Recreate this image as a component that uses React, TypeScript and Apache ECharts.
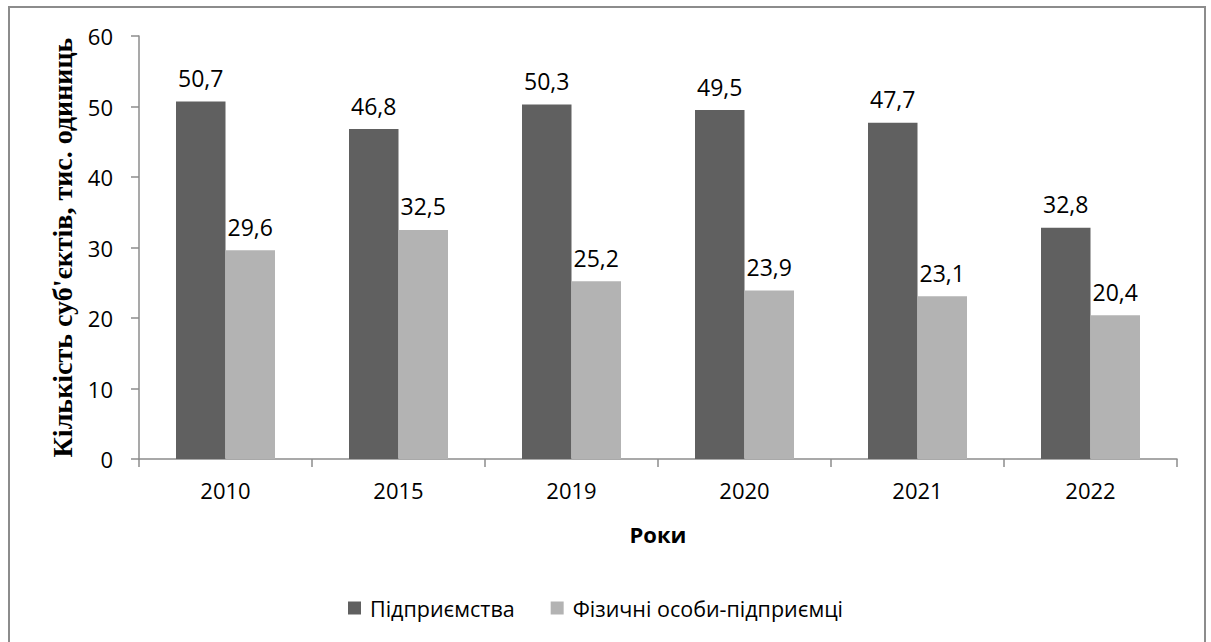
import React, { useEffect, useRef } from "react";
import * as echarts from "echarts";

const years = ["2010", "2015", "2019", "2020", "2021", "2022"];
const enterprises = [50.7, 46.8, 50.3, 49.5, 47.7, 32.8];
const individuals = [29.6, 32.5, 25.2, 23.9, 23.1, 20.4];
const seriesNames = ["Підприємства", "Фізичні особи-підприємці"];
const yTitle = "Кількість суб'єктів, тис. одиниць";
const xTitle = "Роки";

const FONT = "'Open Sans', sans-serif";

export default function App() {
  const ref = useRef<HTMLDivElement>(null);
  useEffect(() => {
    if (!ref.current) return;
    const chart = echarts.init(ref.current, null, { renderer: "svg" });
    const fmt = (p: any) => String(p.value).replace(".", ",");
    const labelStyle = {
      show: true,
      position: "top",
      distance: 12,
      formatter: fmt,
      fontFamily: FONT,
      fontSize: 23,
      color: "#000",
    };
    chart.setOption({
      animation: false,
      backgroundColor: "#ffffff",
      textStyle: { fontFamily: FONT },
      grid: { left: 139, right: 34, top: 36, bottom: 183, containLabel: false },
      graphic: [
        {
          type: "rect",
          shape: { x: 9, y: 7, width: 1196, height: 660 },
          style: { fill: "none", stroke: "#8c8c8c", lineWidth: 2 },
          silent: true,
        },
      ],
      legend: {
        data: seriesNames,
        top: 592,
        left: 343,
        itemWidth: 13,
        itemHeight: 13,
        itemGap: 36,
        icon: "rect",
        textStyle: { fontFamily: FONT, fontSize: 21.5, color: "#000", padding: [0, 0, 0, 4] },
      },
      xAxis: {
        type: "category",
        data: years,
        name: xTitle,
        nameLocation: "middle",
        nameGap: 64,
        nameTextStyle: { fontFamily: FONT, fontSize: 22, fontWeight: "bold", color: "#000" },
        axisLine: { lineStyle: { color: "#8c8c8c", width: 1.5 } },
        axisTick: { show: true, length: 8, lineStyle: { color: "#8c8c8c", width: 1.5 } },
        axisLabel: { fontFamily: FONT, fontSize: 22, color: "#000", margin: 20 },
      },
      yAxis: {
        type: "value",
        min: 0,
        max: 60,
        interval: 10,
        name: yTitle,
        nameLocation: "middle",
        nameGap: 62,
        nameRotate: 90,
        nameTextStyle: {
          fontFamily: "'Liberation Serif', 'Times New Roman', serif",
          fontSize: 28,
          fontWeight: "bold",
          color: "#000",
        },
        axisLine: { show: true, lineStyle: { color: "#8c8c8c", width: 1.5 } },
        axisTick: { show: true, length: 8, lineStyle: { color: "#8c8c8c", width: 1.5 } },
        splitLine: { show: false },
        axisLabel: { fontFamily: FONT, fontSize: 22, color: "#000", margin: 26 },
      },
      series: [
        {
          name: seriesNames[0],
          type: "bar",
          data: enterprises,
          barWidth: 49.5,
          barGap: "0%",
          itemStyle: { color: "#606060" },
          label: labelStyle,
        },
        {
          name: seriesNames[1],
          type: "bar",
          data: individuals,
          barWidth: 49.5,
          barGap: "0%",
          itemStyle: { color: "#b3b3b3" },
          label: labelStyle,
        },
      ],
    });
    return () => chart.dispose();
  }, []);
  return (
    <div
      ref={ref}
      style={{ position: "absolute", left: 0, top: 0, width: 1211, height: 642 }}
    />
  );
}
